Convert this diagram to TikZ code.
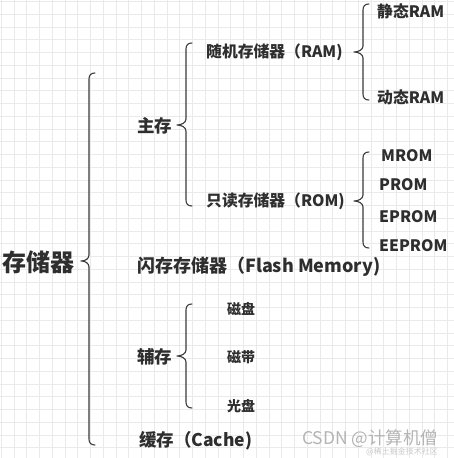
\documentclass[tikz,border=0pt]{standalone}
\usepackage{fontspec}
\newfontfamily\cjk{Noto Sans CJK SC}
\definecolor{txt}{HTML}{2E2E2E}
\definecolor{brc}{HTML}{3A3A3A}
\definecolor{gridc}{HTML}{EAEAEA}
\definecolor{wm}{HTML}{B4B4B4}
\tikzset{
  lbl/.style={inner sep=0, anchor=west, text=txt, font=\cjk\bfseries\fontsize{15.8}{16}\selectfont},
  big/.style={lbl, font=\cjk\bfseries\fontsize{17.5}{18}\selectfont},
  flashf/.style={lbl, font=\cjk\bfseries\fontsize{18}{18}\selectfont},
  small/.style={lbl, font=\cjk\bfseries\fontsize{14}{15}\selectfont},
  root/.style={lbl, font=\cjk\bfseries\fontsize{24}{25}\selectfont},
  brc/.style={draw=brc, line width=1.1pt, line cap=round, line join=round},
  gline/.style={draw=gridc, line width=0.8pt},
  wmark/.style={inner sep=0, anchor=west, text=wm, font=\cjk\fontsize{17.5}{18}\selectfont},
}
\newcommand\mybrace[5]{% x, top, tip y, bottom, tip depth
  \draw[brc] (#1+6,#2) .. controls (#1+2,#2) and (#1,#2+2) .. (#1,#2+6)
    -- (#1,#3-6) .. controls (#1,#3-2) and (#1-#5+4,#3) .. (#1-#5,#3)
    .. controls (#1-#5+4,#3) and (#1,#3+2) .. (#1,#3+6)
    -- (#1,#4-6) .. controls (#1,#4-2) and (#1+2,#4) .. (#1+6,#4);
}
\begin{document}
\begin{tikzpicture}[x=1pt,y=-1pt]
\useasboundingbox (0,0) rectangle (454,458);
\fill[white] (0,0) rectangle (454,458);
\begin{scope}
\clip (0,0) rectangle (454,458);
\foreach \i in {0,...,36} {
  \draw[gline] (1.25+12.75*\i,0) -- (1.25+12.75*\i,458);
  \draw[gline] (0,1.5+12.75*\i) -- (454,1.5+12.75*\i);
}
\end{scope}

% braces
\mybrace{89}{73}{261}{445}{8}
\mybrace{186}{43}{125}{206}{9}
\mybrace{363}{4}{52}{100}{9}
\mybrace{363}{152}{201}{248}{9}
\mybrace{186}{304}{356}{408}{9}

% labels
\node[root] (mem) at (2,262) {存储器};
\node[big] (main) at (137,126) {主存};
\node[lbl] (ram) at (206,52) {随机存储器（RAM)};
\node[lbl] (sram) at (377,11) {静态RAM};
\node[lbl] (dram) at (377,97) {动态RAM};
\node[lbl] (rom) at (206,201) {只读存储器（ROM)};
\node[lbl] (mrom) at (381,156) {MROM};
\node[lbl] (prom) at (379,185) {PROM};
\node[lbl] (eprom) at (379,217) {EPROM};
\node[lbl] (eeprom) at (379,246) {EEPROM};
\node[flashf] (flash) at (137,267) {闪存存储器（Flash Memory)};
\node[big] (aux) at (137,357) {辅存};
\node[small] (disk) at (227,309) {磁盘};
\node[small] (tape) at (227,357) {磁带};
\node[small] (optical) at (227,406) {光盘};
\node[big] (cache) at (139,441) {缓存（Cache)};

% watermark
\node[wmark] (wm1) at (302,439) {CSDN @计算机僧};
\node[inner sep=0, anchor=west, text=wm!70, font=\cjk\fontsize{8}{9}\selectfont] (wm2) at (366,452) {@稀土掘金技术社区};
\end{tikzpicture}
\end{document}
